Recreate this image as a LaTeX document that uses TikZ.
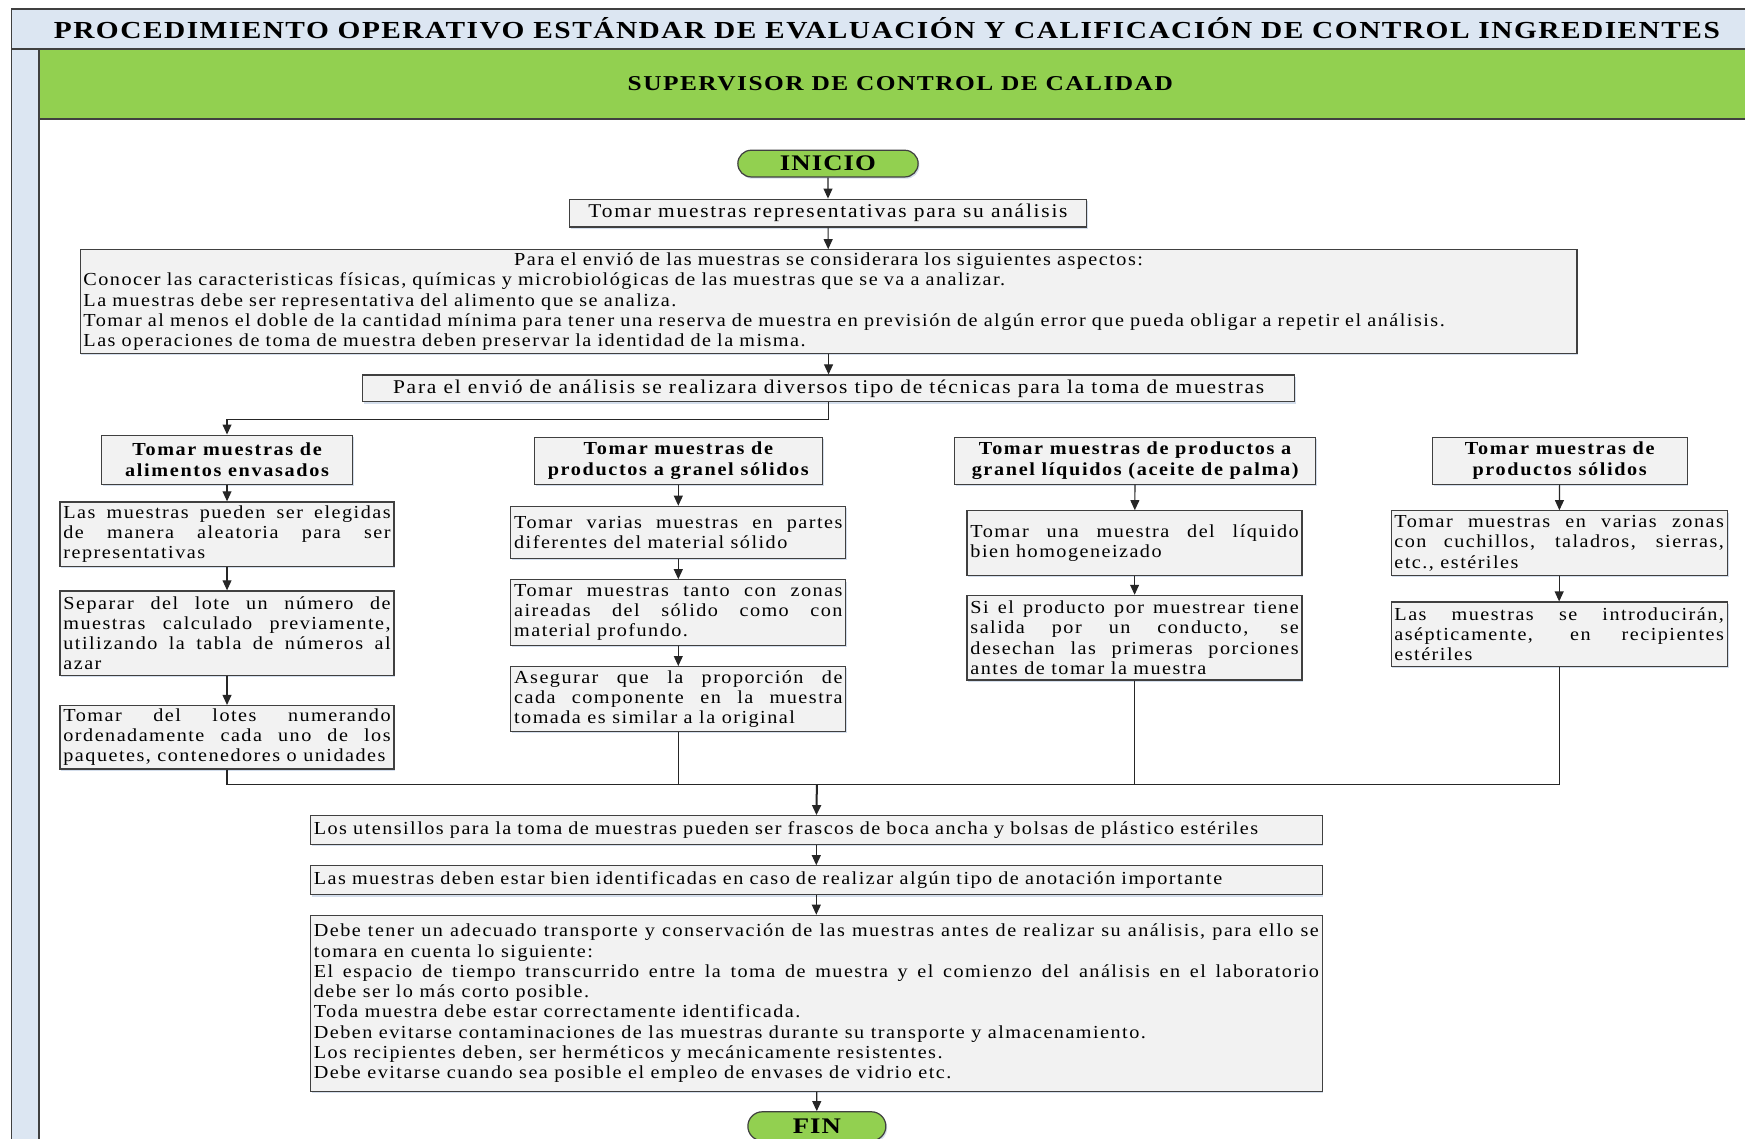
\documentclass[tikz,border=0pt]{standalone}
\usepackage{fontspec}
\setmainfont{Liberation Serif}[FakeStretch=1.1, LetterSpace=8]
\newfontfamily\widefont{Liberation Serif}[FakeStretch=1.1, LetterSpace=9]
\newfontfamily\titlefont{Liberation Serif}[FakeStretch=1.2, LetterSpace=6]
\newfontfamily\rolefont{Liberation Serif}[FakeStretch=1.2, LetterSpace=7]
\newfontfamily\termfont{Liberation Serif}[FakeStretch=1.2, LetterSpace=5]
\usetikzlibrary{arrows.meta,shapes.misc,shadows}

\definecolor{laneblue}{HTML}{DCE6F2}
\definecolor{lanegreen}{HTML}{92D050}
\definecolor{boxfill}{HTML}{F2F2F2}
\definecolor{boxline}{HTML}{404040}
\definecolor{shadowc}{HTML}{B8C8E0}

\newcommand\bodyfnt{\fontsize{16.5}{18.2}\selectfont}
\newcommand\widefnt{\widefont\fontsize{17.5}{19}\selectfont}
\newcommand\boldfnt{\widefont\bfseries\fontsize{16.5}{19.2}\selectfont}
\newcommand\gap{\hspace{6pt}}

\begin{document}
\begin{tikzpicture}[x=1pt,y=-1pt,
  box/.style={draw=boxline, fill=boxfill, line width=1.1pt, inner xsep=3pt, inner ysep=1pt,
    font=\bodyfnt, drop shadow={shadow xshift=1.2pt, shadow yshift=-1.6pt, fill=shadowc, opacity=0.6}},
  headbox/.style={box, font=\boldfnt, align=center},
  jbox/.style={box, align=justify},
  term/.style={draw=boxline, fill=lanegreen, line width=1.1pt, rounded rectangle,
    font=\termfont\bfseries\fontsize{20}{22}\selectfont, inner sep=0pt,
    drop shadow={shadow xshift=1.2pt, shadow yshift=-1.6pt, fill=shadowc, opacity=0.6}},
  arr/.style={draw=black!85, line width=1pt, -{Triangle[length=9pt,width=8pt]}},
  link/.style={draw=black!85, line width=1pt}
]
\useasboundingbox (0,0) rectangle (1568,1023);

% swimlane frame
\path[draw=boxline, line width=1.1pt, fill=laneblue] (10,8) rectangle (1590,44);
\path[draw=boxline, line width=1.1pt, fill=laneblue] (10,44) rectangle (35,1040);
\path[draw=boxline, line width=1.1pt, fill=lanegreen] (35,44) rectangle (1590,107);
\path[draw=boxline, line width=1.1pt, fill=white] (35,107) rectangle (1590,1040);
\node[font=\titlefont\bfseries\fontsize{22}{24}\selectfont] (titulo) at (797,25)
  {PROCEDIMIENTO OPERATIVO ESTÁNDAR DE EVALUACIÓN Y CALIFICACIÓN DE CONTROL INGREDIENTES};
\node[font=\rolefont\bfseries\fontsize{19}{21}\selectfont] (rol) at (809,75)
  {SUPERVISOR DE CONTROL DE CALIDAD};

% main trunk
\node[term, minimum width=162pt, minimum height=24pt] (inicio) at (744,147) {INICIO};
\node[box, font=\widefnt, minimum width=465pt, minimum height=25pt] (t1) at (744,191.5)
  {Tomar muestras representativas para su análisis};
\node[box, text width=1339pt, minimum height=93pt, align=left] (t2) at (744.5,271)
  {\hfill Para el envió de las muestras se considerara los siguientes aspectos:\hfill\null\\
   Conocer las caracteristicas físicas, químicas y microbiológicas de las muestras que se va a analizar.\\
   La muestras debe ser representativa del alimento que se analiza.\\
   Tomar al menos el doble de la cantidad mínima para tener una reserva de muestra en previsión de algún error que pueda obligar a repetir el análisis.\\
   Las operaciones de toma de muestra deben preservar la identidad de la misma.};
\node[box, font=\widefnt, minimum width=838pt, minimum height=24pt] (t3) at (744.5,349)
  {Para el envió de análisis se realizara diversos tipo de técnicas para la toma de muestras};

% column A
\node[headbox, minimum width=226pt, minimum height=44pt] (a0) at (204,413)
  {Tomar muestras\gap de\\alimentos envasados};
\node[jbox, text width=294pt, minimum height=58pt] (a1) at (204,480)
  {Las muestras pueden ser elegidas\linebreak de manera aleatoria para ser\linebreak representativas};
\node[jbox, text width=294pt, minimum height=76pt] (a2) at (204,569)
  {Separar del lote un número de\linebreak muestras calculado previamente,\linebreak utilizando la tabla de números al\linebreak azar};
\node[jbox, text width=294pt, minimum height=57pt] (a3) at (204,662.5)
  {Tomar del lotes numerando\linebreak ordenadamente cada uno de los\linebreak paquetes, contenedores o unidades};

% column B
\node[headbox, minimum width=259pt, minimum height=42pt] (b0) at (609.5,414)
  {Tomar muestras\gap de\\productos a granel sólidos};
\node[jbox, text width=295pt, minimum height=47pt] (b1) at (609.5,478.5)
  {Tomar varias muestras en partes\linebreak diferentes del material sólido};
\node[jbox, text width=295pt, minimum height=59pt] (b2) at (609.5,550.5)
  {Tomar muestras tanto con zonas\linebreak aireadas del sólido como con\linebreak material profundo.};
\node[jbox, text width=295pt, minimum height=58pt] (b3) at (609.5,628)
  {Asegurar que la proporción de\linebreak cada componente en la muestra\linebreak tomada es similar a la original};

% column C
\node[headbox, minimum width=324pt, minimum height=42pt] (c0) at (1020,414)
  {Tomar muestras\gap de productos a\\granel líquidos (aceite de palma)};
\node[jbox, text width=295pt, minimum height=58pt] (c1) at (1019.5,488)
  {Tomar una muestra del líquido\linebreak bien homogeneizado};
\node[jbox, text width=295pt, minimum height=76pt] (c2) at (1019.5,573)
  {Si el producto por muestrear tiene\linebreak salida por un conducto, se\linebreak desechan las primeras porciones\linebreak antes de tomar la muestra};

% column D
\node[headbox, minimum width=229pt, minimum height=42pt] (d0) at (1401.5,414)
  {Tomar muestras de\\productos sólidos};
\node[jbox, text width=296pt, minimum height=58pt] (d1) at (1401,488)
  {Tomar muestras en varias zonas\linebreak con cuchillos, taladros, sierras,\linebreak etc., estériles};
\node[jbox, text width=296pt, minimum height=58pt] (d2) at (1401,570)
  {Las muestras se introducirán,\linebreak asépticamente, en recipientes\linebreak estériles};

% closing steps
\node[box, text width=903pt, minimum height=26pt, align=left] (e1) at (733.5,746)
  {Los utensillos para la toma de muestras pueden ser frascos de boca ancha y bolsas de plástico estériles};
\node[box, text width=903pt, minimum height=26pt, align=left] (e2) at (733.5,791)
  {Las muestras deben estar bien identificadas en caso de realizar algún tipo de anotación importante};
\node[jbox, text width=903pt, minimum height=158pt] (e3) at (733.5,901.5)
  {Debe tener un adecuado transporte y conservación de las muestras antes de realizar su análisis, para ello se\linebreak
   tomara en cuenta lo siguiente:\\
   El espacio de tiempo transcurrido entre la toma de muestra y el comienzo del análisis en el laboratorio\linebreak
   debe ser lo más corto posible.\\
   Toda muestra debe estar correctamente identificada.\\
   Deben evitarse contaminaciones de las muestras durante su transporte y almacenamiento.\\
   Los recipientes deben, ser herméticos y mecánicamente resistentes.\\
   Debe evitarse cuando sea posible el empleo de envases de vidrio etc.};
\node[term, minimum width=124pt, minimum height=26pt] (fin) at (734,1012) {FIN};

% connectors
\coordinate (split) at (744.5,377);
\coordinate (merge) at (734,705);
\draw[arr] (inicio) -- (t1);
\draw[arr] (t1) -- (t2);
\draw[arr] (t2) -- (t3);
\draw[link] (t3) -- (split);
\draw[arr] (split) -| (a0);
\draw[arr] (a0) -- (a1);
\draw[arr] (a1) -- (a2);
\draw[arr] (a2) -- (a3);
\draw[arr] (b0) -- (b1);
\draw[arr] (b1) -- (b2);
\draw[arr] (b2) -- (b3);
\draw[arr] (c0) -- (c1);
\draw[arr] (c1) -- (c2);
\draw[arr] (d0) -- (d1);
\draw[arr] (d1) -- (d2);
\draw[link] (a3) |- (merge);
\draw[link] (b3) |- (merge);
\draw[link] (c2) |- (merge);
\draw[link] (d2) |- (merge);
\draw[arr, line width=1.8pt] (merge) -- (e1);
\draw[arr] (e1) -- (e2);
\draw[arr] (e2) -- (e3);
\draw[arr] (e3) -- (fin);
\end{tikzpicture}
\end{document}
